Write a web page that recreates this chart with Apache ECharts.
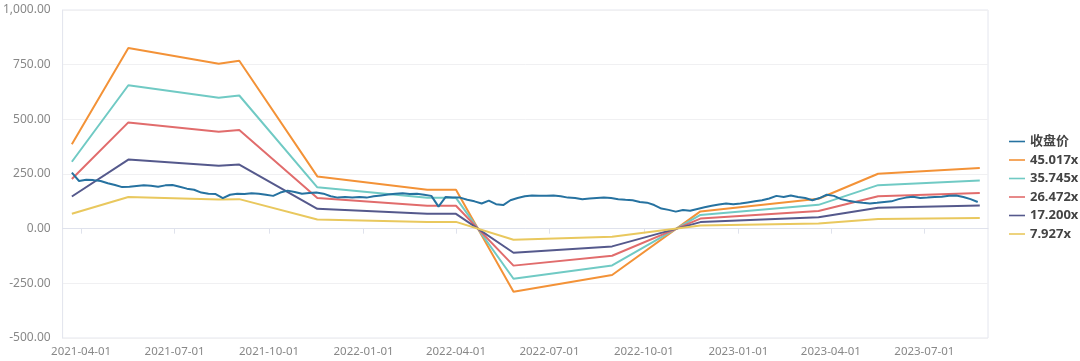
<!DOCTYPE html>
<html>
<head>
<meta charset="utf-8">
<script src="https://cdn.jsdelivr.net/npm/echarts@6/dist/echarts.min.js"></script>
<style>html,body{margin:0;padding:0;background:#fff;}#c{width:1080px;height:361px;}</style>
</head>
<body>
<div id="c"></div>
<script>
// ---- data ----
var seriesNames = ['收盘价', '45.017x', '35.745x', '26.472x', '17.200x', '7.927x'];
var yTicks = [-500, -250, 0, 250, 500, 750, 1000];

// close price: weekly readings starting at closeStart
var closeStart = '2021-03-23';
var closeValues = [256,218,224,222,218,208,200,190,192,195,198,196,192,198,200,192,183,178,165,160,
  158,140,155,160,158,162,160,155,150,165,174,168,160,163,165,160,148,142,145,143,
  145,142,148,152,156,160,162,158,160,155,150,101,145,142,142,132,125,115,128,112,
  108,130,140,148,152,150,150,152,148,142,140,135,138,140,142,140,135,132,130,122,
  119,108,92,86,78,85,82,90,98,105,110,115,112,115,120,125,130,138,150,145,
  152,145,140,130,140,155,150,135,128,122,118,115,118,122,125,135,142,146,140,142,
  145,146,150,152,145,135,122];

// PE band vertices
var bandDates = ['2021-03-23','2021-05-17','2021-08-13','2021-09-02','2021-11-17','2022-03-04','2022-04-01',
  '2022-05-27','2022-08-31','2022-11-25','2023-03-20','2023-05-17','2023-08-24'];
var band45 = [386, 826, 754, 768, 239, 178, 178, -288, -212, 79, 137, 251, 277];
var band35 = [306, 656, 599, 609, 189, 141, 141, -229, -168, 63, 109, 199, 220];
var band26 = [227, 486, 443, 451, 140, 105, 105, -169, -124, 46, 81, 148, 163];
var band17 = [147, 316, 288, 293, 91, 68, 68, -110, -81, 30, 52, 96, 106];
var band7  = [68, 145, 133, 135, 42, 31, 31, -51, -37, 14, 24, 44, 49];

// ---- build ----
var DAY = 86400000;
function toPairs(dates, vals){ return vals.map(function(v,i){ return [dates[i], v]; }); }
var t0 = new Date(closeStart + 'T00:00:00').getTime();
var closeData = closeValues.map(function(v,i){ return [t0 + i*7*DAY, v]; });

var colors = ['#2672a0', '#f39237', '#70cac4', '#e16c6c', '#55598c', '#e9c85e'];
var bands = [band45, band35, band26, band17, band7];

var series = [{
  name: seriesNames[0], type: 'line', data: closeData, showSymbol: false, symbol: 'none',
  lineStyle: {width: 2, color: colors[0]}, itemStyle: {color: colors[0]}, z: 3
}];
bands.forEach(function(b, i){
  series.push({
    name: seriesNames[i+1], type: 'line', data: toPairs(bandDates, b), showSymbol: false, symbol: 'none',
    lineStyle: {width: 2, color: colors[i+1]}, itemStyle: {color: colors[i+1]}, z: 2
  });
});

var chart = echarts.init(document.getElementById('c'), null, {renderer: 'canvas'});
chart.setOption({
  animation: false,
  color: colors,
  textStyle: {fontFamily: '"Noto Sans", "Noto Sans CJK SC", sans-serif'},
  grid: {left: 61, right: 92, top: 10, bottom: 23, show: true, borderColor: '#e4e6ee', borderWidth: 1},
  legend: {
    orient: 'vertical', left: 1004, top: 130, itemWidth: 16, itemHeight: 12, itemGap: 5.5,
    icon: 'path://M0,5 L20,5 L20,7 L0,7 Z',
    textStyle: {fontSize: 13, color: '#444', fontWeight: 'bold', padding: [0, 0, 0, 0]},
    data: seriesNames
  },
  xAxis: {
    type: 'time',
    min: '2021-03-14', max: '2023-09-01',
    minInterval: 95*DAY, maxInterval: 95*DAY,
    axisLine: {lineStyle: {color: '#dfe2ec'}},
    axisTick: {show: true, lineStyle: {color: '#dfe2ec'}},
    splitLine: {show: false},
    axisLabel: {color: '#888', fontSize: 11.5, formatter: '{yyyy}-{MM}-{dd}', hideOverlap: false, margin: 8}
  },
  yAxis: {
    type: 'value', min: yTicks[0], max: yTicks[yTicks.length-1], interval: 250,
    axisLine: {show: true, lineStyle: {color: '#e4e6ee'}},
    axisTick: {show: false},
    splitLine: {lineStyle: {color: '#f0f0f2'}},
    axisLabel: {color: '#888', fontSize: 12, margin: 12, formatter: function(v){
      return v.toLocaleString('en-US', {minimumFractionDigits: 2, maximumFractionDigits: 2});
    }}
  },
  series: series
});
</script>
</body>
</html>
